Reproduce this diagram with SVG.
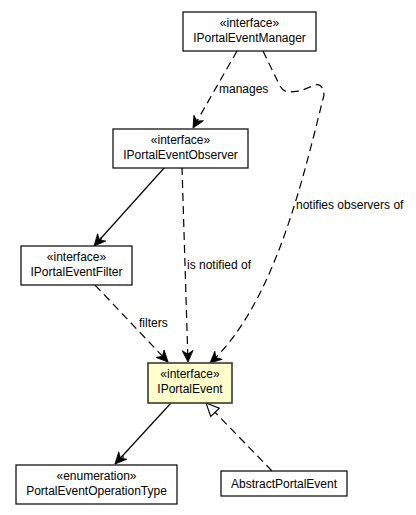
<svg xmlns="http://www.w3.org/2000/svg" width="416" height="515" viewBox="0 0 416 515">
<style>
.box{fill:#fff;stroke:#000;stroke-width:1.2}
.hl{fill:#ffffcc;stroke:#3a3a2a;stroke-width:1.6}
text{font-family:"Liberation Sans",Arial,sans-serif;font-size:12px;fill:#000}
.c{text-anchor:middle}
.e{fill:none;stroke:#000;stroke-width:1.2}
.d{stroke-dasharray:8,5}
</style>
<defs>
<marker id="open" markerWidth="14" markerHeight="14" refX="12" refY="6" orient="auto" markerUnits="userSpaceOnUse">
<path d="M0.5,0.5 L12,6 L0.5,11.5 L4,6 Z" fill="#000" stroke="#000" stroke-width="0.8" stroke-dasharray="none"/>
</marker>
<marker id="tri" markerWidth="16" markerHeight="16" refX="14" refY="7" orient="auto" markerUnits="userSpaceOnUse">
<path d="M1,1 L14,7 L1,13 Z" fill="#fff" stroke="#000" stroke-width="1.1" stroke-dasharray="none"/>
</marker>
</defs>
<g id="connectors">
<path class="e d" d="M237,51 L193,128" marker-end="url(#open)"/>
<path class="e d" d="M263,51 L280,86 Q283,92 290,92 L300,91 L315,85 Q323,83 324,95 C305,170 276,303 210,363" marker-end="url(#open)"/>
<path class="e" d="M165,167 L94,246" marker-end="url(#open)"/>
<path class="e" d="M101,237 L101,243"/>
<path class="e d" d="M182,167 L188,362" marker-end="url(#open)"/>
<path class="e d" d="M95,285 L168,362" marker-end="url(#open)"/>
<path class="e" d="M171,403 L115,464" marker-end="url(#open)"/>
<path class="e" d="M123,455 L123,461"/>
<path class="e d" d="M272,471 L206,403" marker-end="url(#tri)"/>
<text x="219" y="93">manages</text>
<text x="296" y="209">notifies observers of</text>
<text x="187" y="269">is notified of</text>
<text x="139" y="327">filters</text>
</g>
<g id="IPortalEventManager">
<rect class="box" x="183" y="12" width="133" height="39"/>
<text class="c" x="249.5" y="27">«interface»</text>
<text class="c" x="249.5" y="42">IPortalEventManager</text>
</g>
<g id="IPortalEventObserver">
<rect class="box" x="113" y="129" width="135" height="39"/>
<text class="c" x="180.5" y="144">«interface»</text>
<text class="c" x="180.5" y="159">IPortalEventObserver</text>
</g>
<g id="IPortalEventFilter">
<rect class="box" x="21" y="246" width="111" height="39"/>
<text class="c" x="76.5" y="261">«interface»</text>
<text class="c" x="76.5" y="276">IPortalEventFilter</text>
</g>
<g id="IPortalEvent">
<rect class="hl" x="148" y="363" width="84" height="40"/>
<text class="c" x="190" y="378">«interface»</text>
<text class="c" x="190" y="393">IPortalEvent</text>
</g>
<g id="PortalEventOperationType">
<rect class="box" x="16" y="465" width="161" height="39"/>
<text class="c" x="96.5" y="480">«enumeration»</text>
<text class="c" x="96.5" y="495">PortalEventOperationType</text>
</g>
<g id="AbstractPortalEvent">
<rect class="box" x="221" y="471" width="126" height="25"/>
<text class="c" x="284" y="488">AbstractPortalEvent</text>
</g>
</svg>
